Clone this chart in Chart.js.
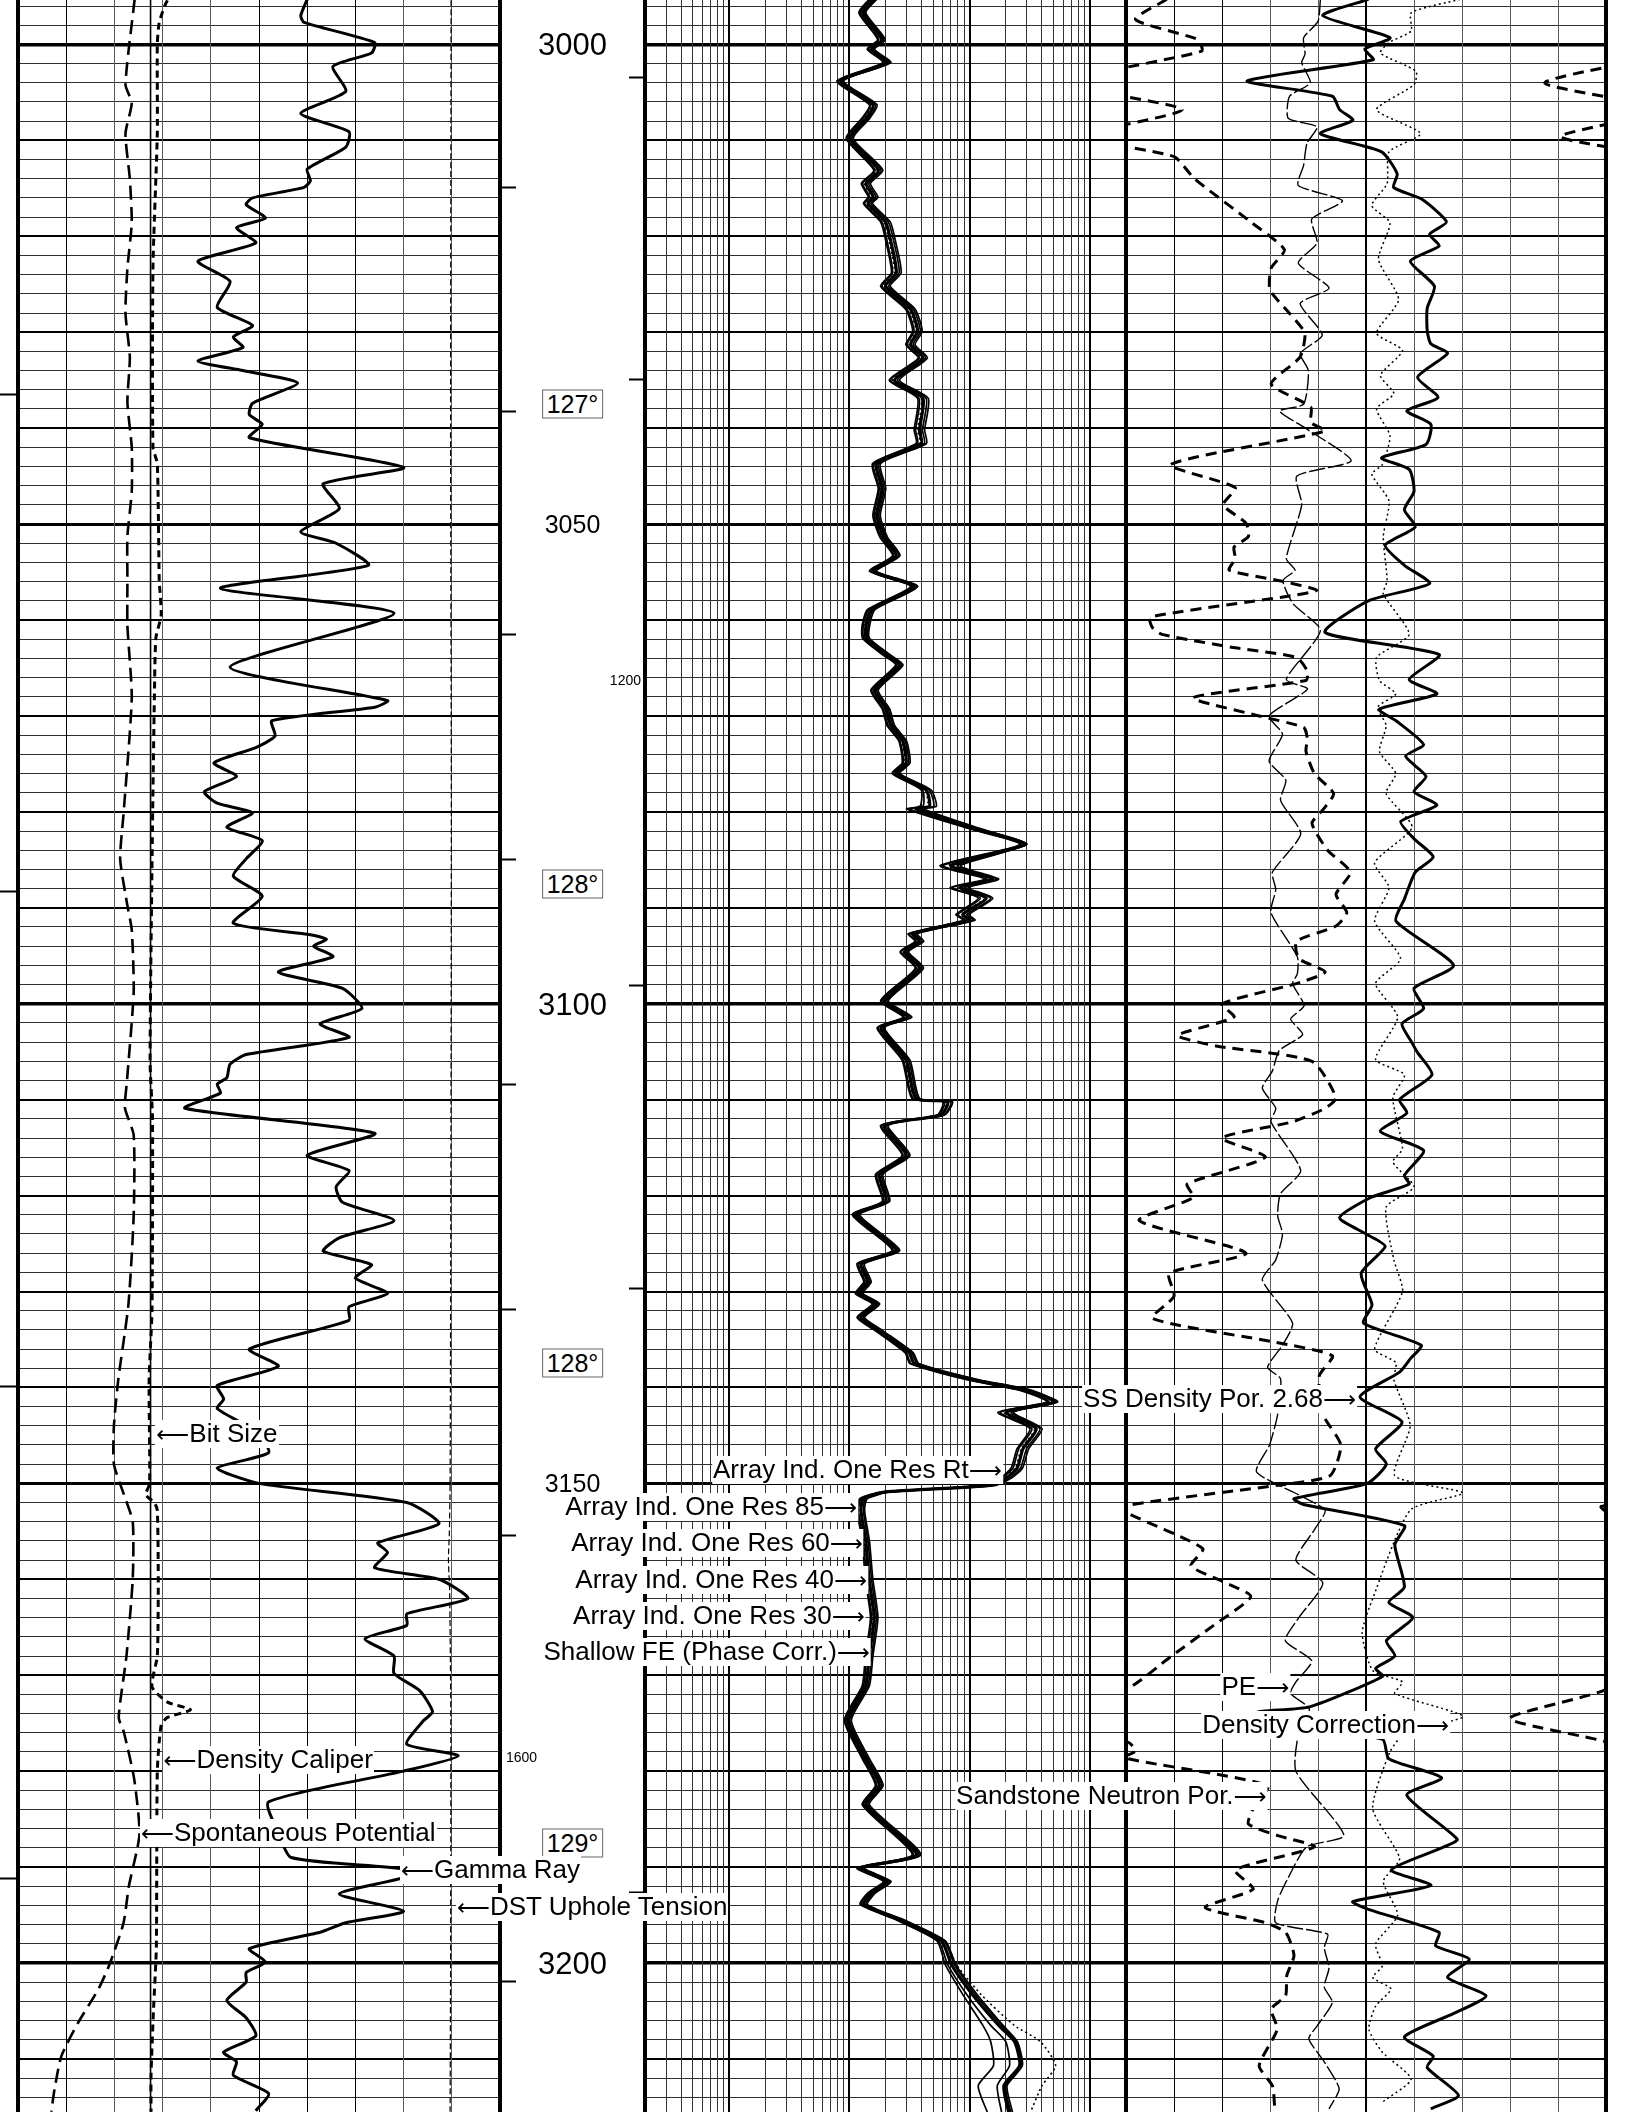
<!DOCTYPE html>
<html>
<head>
<meta charset="utf-8">
<script src="https://cdn.jsdelivr.net/npm/chart.js@4.4.1/dist/chart.umd.min.js"></script>
<style>
  html, body { margin: 0; padding: 0; background: #fff; }
  #log { position: relative; width: 1632px; height: 2112px; overflow: hidden;
         font-family: "Liberation Sans", Arial, "DejaVu Sans", sans-serif; color: #000; }
  #log canvas { position: absolute; top: 0; }
  .note { position: absolute; white-space: nowrap; background: #fff; font-size: 26px; line-height: 27px; padding: 0 1px; }
  .arr { font-family: "DejaVu Sans", sans-serif; font-size: 23px; }
</style>
</head>
<body>
<div id="log">
  <canvas id="t1" width="660" height="2112" style="left:0px"></canvas>
  <canvas id="t2" width="510" height="2112" style="left:630px"></canvas>
  <canvas id="t3" width="520" height="2112" style="left:1112px"></canvas>
</div>
<script>
// depth window of the print
const TOP_DEPTH = 2995.37, BOTTOM_DEPTH = 3215.53;

// ---- track 1 ----
const grDepth = [2995.3, 2997.0, 2997.7, 2999.8, 3000.9, 3002.3, 3004.9, 3007.2, 3009.1, 3010.7,
  3013.0, 3014.2, 3014.9, 3016.0, 3016.7, 3018.1, 3019.1, 3020.7, 3022.6, 3024.7,
  3027.4, 3029.3, 3030.5, 3031.6, 3033.0, 3034.0, 3035.3, 3037.4, 3038.6, 3039.6,
  3041.0, 3044.1, 3045.8, 3048.4, 3050.8, 3052.0, 3054.3, 3056.7, 3059.3, 3064.9,
  3068.4, 3069.1, 3070.5, 3072.1, 3073.3, 3074.9, 3076.3, 3077.9, 3079.1, 3080.1,
  3081.6, 3083.0, 3084.9, 3086.7, 3088.8, 3091.6, 3092.8, 3093.3, 3094.0, 3095.1,
  3096.7, 3098.4, 3100.5, 3102.1, 3103.5, 3105.3, 3106.3, 3107.7, 3108.4, 3109.3,
  3110.9, 3113.5, 3115.8, 3117.4, 3119.1, 3120.7, 3122.6, 3124.4, 3125.8, 3127.2,
  3128.6, 3130.2, 3131.6, 3133.0, 3136.0, 3137.8, 3139.8, 3141.2, 3142.2, 3144.6,
  3146.8, 3148.4, 3150.0, 3152.0, 3154.2, 3156.2, 3157.2, 3158.8, 3160.0, 3162.0,
  3163.6, 3164.8, 3166.2, 3168.0, 3169.8, 3171.6, 3173.8, 3174.8, 3177.2, 3178.4,
  3180.0, 3183.2, 3186.4, 3189.0, 3190.2, 3191.0, 3192.8, 3194.6, 3195.8, 3196.8,
  3198.5, 3199.9, 3201.0, 3202.0, 3203.9, 3205.7, 3207.6, 3209.3, 3210.3, 3211.7,
  3213.6, 3215.4];
const grApi = [90, 88, 89, 111, 110, 98, 102, 88, 103, 102,
  90, 91, 89, 73, 71, 77, 68, 74, 56, 66,
  62, 73, 67, 70, 56, 70, 87, 73, 72, 76,
  72, 120, 95, 100, 88, 99, 109, 63, 117, 66,
  115, 111, 79, 80, 74, 61, 68, 58, 62, 73,
  65, 76, 71, 67, 76, 67, 91, 96, 92, 98,
  81, 101, 107, 94, 103, 71, 66, 65, 62, 63,
  52, 111, 90, 103, 99, 101, 117, 100, 95, 110,
  105, 115, 103, 103, 72, 81, 62, 64, 62, 74,
  78, 62, 75, 121, 131, 112, 115, 111, 131, 140,
  121, 121, 108, 117, 117, 125, 129, 126, 121, 137,
  120, 78, 81, 85, 120, 121, 100, 120, 102, 94,
  72, 77, 71, 71, 65, 71, 74, 64, 68, 67,
  78, 74];

const spDepth = [2995.3, 3004.2, 3006.1, 3009.3, 3014.0, 3018.6, 3023.3, 3028.0, 3032.6, 3037.3,
  3042.0, 3046.6, 3051.3, 3055.9, 3060.6, 3068.1, 3080.2, 3084.9, 3089.5, 3092.3,
  3098.8, 3108.1, 3110.9, 3113.7, 3122.1, 3131.4, 3139.2, 3144.0, 3148.0, 3151.2,
  3154.0, 3160.0, 3168.0, 3174.4, 3176.0, 3180.8, 3186.6, 3192.0, 3195.8, 3200.0,
  3202.7, 3206.2, 3209.7, 3213.1, 3215.5];
const spMv = [-55.8, -57.7, -56.4, -57.7, -56.8, -56.4, -57.3, -57.7, -56.8, -57.3,
  -56.4, -56.4, -57.3, -57.3, -57.3, -56.4, -58.1, -58.8, -57.4, -56.4,
  -56.0, -57.4, -57.8, -56.0, -56.0, -57.1, -59.2, -60.1, -60.1, -58.0,
  -56.2, -56.2, -57.5, -59.1, -58.0, -55.9, -54.8, -57.0, -58.1, -60.9,
  -63.3, -67.5, -71.0, -72.4, -73.1];

const calDepth = [2995.4, 2995.8, 2997.7, 3000.0, 3009.3, 3023.3, 3042.0, 3043.7, 3055.8, 3059.5,
  3061.9, 3067.9, 3081.6, 3106.0, 3112.0, 3131.9, 3139.2, 3150.0, 3151.2, 3152.0,
  3152.8, 3160.0, 3168.0, 3171.2, 3172.8, 3173.6, 3174.4, 3175.2, 3180.0, 3198.4,
  3205.0, 3211.7, 3215.5];
const calIn = [9.10, 9.06, 8.93, 8.89, 8.89, 8.80, 8.80, 8.89, 8.93, 8.97,
  8.86, 8.83, 8.79, 8.74, 8.79, 8.78, 8.72, 8.73, 8.65, 8.83,
  8.89, 8.91, 8.89, 8.78, 9.10, 9.58, 9.10, 8.97, 8.89, 8.87,
  8.81, 8.76, 8.76];

const bitSizeIn = 8.75;

const tenDepth = [2995.4, 3040.0, 3080.0, 3120.0, 3150.0, 3155.0, 3158.0, 3161.0, 3175.0, 3200.0, 3215.5];
const tenLbs = [1797, 1795, 1798, 1796, 1793, 1790, 1786, 1791, 1796, 1795, 1793];

// ---- track 2 (ohm.m) ----
const resDepth = [2995.3, 2996.7, 2999.5, 3000.5, 3001.9, 3003.8, 3006.3, 3007.7, 3009.8, 3013.1,
  3014.5, 3015.9, 3016.6, 3018.5, 3020.6, 3023.8, 3025.2, 3027.6, 3029.9, 3031.3,
  3032.7, 3035.0, 3036.9, 3040.2, 3041.6, 3043.7, 3046.3, 3049.1, 3051.4, 3053.3,
  3054.9, 3056.5, 3058.9, 3060.5, 3061.9, 3063.6, 3064.7, 3067.3, 3069.3, 3071.0,
  3072.6, 3074.9, 3076.0, 3077.7, 3079.4, 3079.7, 3081.7, 3083.4, 3085.6, 3087.0,
  3087.9, 3089.0, 3090.7, 3091.3, 3092.7, 3093.5, 3094.6, 3096.3, 3099.7, 3101.4,
  3102.5, 3105.9, 3109.9, 3110.2, 3111.6, 3112.7, 3115.8, 3117.8, 3120.6, 3122.0,
  3125.7, 3127.1, 3129.0, 3130.2, 3131.3, 3132.7, 3134.1, 3136.4, 3137.5, 3139.2,
  3140.3, 3141.5, 3142.6, 3144.3, 3146.4, 3148.4, 3149.4, 3150.2, 3150.9, 3151.6,
  3152.8, 3156.0, 3160.0, 3164.0, 3168.0, 3171.1, 3174.7, 3178.7, 3181.5, 3183.5,
  3188.7, 3190.1, 3191.5, 3192.7, 3193.9, 3195.5, 3197.7, 3200.2, 3203.3, 3206.5,
  3208.2, 3210.7, 3212.8, 3215.6];
const resRt = [15.8, 12.9, 18.7, 15.3, 20.7, 8.5, 15.8, 13.8, 10.1, 17.5,
  13.8, 15.8, 14.3, 20.0, 22.2, 24.6, 20.0, 32.3, 37.0, 32.3,
  41.0, 23.8, 41.0, 38.3, 39.7, 16.9, 18.7, 16.9, 19.4, 24.6,
  15.8, 34.6, 15.3, 13.8, 13.8, 20.2, 26.1, 16.2, 20.2, 22.2,
  27.8, 29.7, 24.5, 43.5, 46.4, 35.9, 107, 287, 70, 156,
  83, 138, 88, 100, 33.7, 38.3, 28.7, 38.3, 19.6, 30.6,
  18.3, 29.7, 35.9, 66, 58, 19.6, 29.7, 17.8, 20.2, 11.4,
  24.5, 12.5, 14.2, 12.1, 16.7, 12.5, 17.8, 31.6, 34.8, 107,
  297, 510, 202, 359, 278, 249, 204, 150, 20, 13.1,
  12.5, 13.7, 14.6, 16.1, 14.6, 13.7, 9.7, 13.7, 17.8, 13.7,
  36.3, 12.5, 20.7, 15.3, 13.2, 26.4, 58.5, 71, 106, 175,
  237, 261, 193, 212];
const res85 = [15.0, 12.3, 17.6, 14.5, 19.5, 8.1, 15.0, 13.0, 9.6, 16.4,
  12.9, 14.8, 13.4, 18.7, 20.7, 22.9, 18.7, 30.2, 34.6, 30.3,
  38.4, 22.1, 38.0, 35.6, 36.9, 16.0, 17.8, 16.1, 18.5, 23.4,
  15.1, 32.9, 14.6, 13.1, 13.2, 19.2, 24.8, 15.4, 19.2, 21.1,
  26.3, 28.1, 23.2, 40.6, 41.0, 31.5, 99, 268, 60, 140,
  72, 123, 80, 92, 31.6, 36.0, 27.0, 36.1, 18.6, 28.7,
  17.4, 28.1, 34.0, 62, 55, 18.6, 28.1, 16.9, 19.2, 10.9,
  23.2, 11.9, 13.5, 11.5, 15.9, 11.9, 16.9, 29.8, 32.6, 98,
  272, 455, 180, 330, 256, 230, 188, 138, 18.8, 12.5,
  11.9, 13.1, 13.9, 15.3, 13.9, 13.1, 9.3, 13.1, 16.9, 13.1,
  34.2, 11.9, 19.6, 14.6, 12.6, 25.0, 55.0, 66, 95, 150,
  200, 215, 170, 185];
const res60 = [16.4, 13.4, 19.4, 15.9, 21.5, 8.8, 16.5, 14.4, 10.5, 18.4,
  14.5, 16.7, 15.1, 21.1, 23.5, 26.0, 21.2, 34.1, 39.0, 34.0,
  43.1, 25.2, 43.6, 40.6, 42.0, 17.7, 19.5, 17.6, 20.2, 25.7,
  16.5, 36.1, 16.0, 14.4, 14.4, 21.1, 27.3, 16.9, 21.1, 23.2,
  29.1, 31.1, 25.7, 46.0, 50.5, 39.5, 114, 300, 79, 168,
  92, 150, 95, 107, 35.5, 40.3, 30.2, 40.2, 20.5, 32.2,
  19.1, 31.1, 37.6, 70, 61, 20.5, 31.1, 18.6, 21.1, 11.9,
  25.6, 13.0, 14.8, 12.6, 17.4, 13.0, 18.6, 33.1, 36.7, 115,
  318, 540, 222, 385, 298, 266, 218, 160, 21.2, 13.7,
  13.1, 14.3, 15.3, 16.8, 15.3, 14.3, 10.1, 14.3, 18.6, 14.3,
  38.1, 13.1, 21.7, 16.0, 13.8, 27.7, 61.5, 75, 112, 185,
  245, 268, 200, 220];
const res40 = [14.6, 12.0, 17.2, 14.1, 19.0, 7.9, 14.7, 12.7, 9.4, 16.0,
  12.6, 14.4, 13.1, 18.2, 20.2, 22.4, 18.2, 29.4, 33.7, 29.5,
  37.4, 21.5, 37.0, 34.6, 35.9, 15.6, 17.4, 15.7, 18.0, 22.9,
  14.7, 32.2, 14.2, 12.8, 12.9, 18.8, 24.3, 15.1, 18.8, 20.6,
  25.8, 27.5, 22.7, 39.5, 38.8, 30.0, 96, 262, 57, 134,
  69, 118, 77, 89, 30.9, 35.2, 26.4, 35.3, 18.2, 28.0,
  17.0, 27.5, 33.3, 60, 54, 18.2, 27.5, 16.5, 18.8, 10.6,
  22.7, 11.6, 13.2, 11.2, 15.5, 11.6, 16.5, 29.2, 31.9, 95,
  263, 440, 172, 318, 248, 222, 182, 133, 18.3, 12.2,
  11.6, 12.8, 13.6, 15.0, 13.6, 12.8, 9.1, 12.8, 16.5, 12.8,
  33.4, 11.6, 19.2, 14.2, 12.3, 24.4, 53.5, 63, 88, 129,
  150, 158, 118, 141];
const res30 = [16.9, 13.7, 19.9, 16.2, 22.1, 9.0, 17.0, 14.8, 10.8, 19.0,
  15.0, 17.3, 15.6, 21.9, 24.3, 27.0, 21.9, 35.3, 40.4, 35.2,
  44.6, 26.2, 45.4, 42.3, 43.8, 18.2, 20.1, 18.1, 20.8, 26.4,
  16.9, 37.1, 16.4, 14.8, 14.7, 21.7, 28.0, 17.4, 21.7, 23.8,
  29.9, 32.0, 26.4, 47.8, 53.0, 41.8, 119, 296, 84, 175,
  97, 156, 99, 111, 36.7, 41.6, 31.1, 41.4, 21.1, 33.2,
  19.6, 32.0, 38.6, 72, 62, 21.1, 32.0, 19.1, 21.7, 12.2,
  26.3, 13.4, 15.2, 13.0, 17.9, 13.4, 19.1, 34.1, 37.8, 120,
  330, 520, 232, 400, 310, 276, 226, 166, 21.9, 14.1,
  13.4, 14.7, 15.7, 17.3, 15.7, 14.7, 10.4, 14.7, 19.1, 14.7,
  39.3, 13.4, 22.3, 16.5, 14.2, 28.5, 63.0, 77, 116, 190,
  250, 275, 205, 228];
const resSfe = [15.5, 12.6, 18.3, 14.9, 20.2, 8.3, 15.4, 13.4, 9.9, 17.0,
  13.4, 15.3, 13.9, 19.4, 21.5, 23.8, 19.4, 31.3, 35.9, 31.4,
  39.8, 23.0, 39.6, 37.0, 38.4, 16.5, 18.3, 16.5, 19.0, 24.1,
  15.5, 33.9, 15.0, 13.5, 13.5, 19.8, 25.6, 15.9, 19.8, 21.8,
  27.2, 29.0, 24.0, 42.4, 44.9, 34.6, 104, 280, 67, 150,
  80, 133, 85, 97, 33.0, 37.5, 28.1, 37.5, 19.2, 29.8,
  17.9, 29.0, 35.1, 64, 57, 19.2, 29.0, 17.4, 19.8, 11.2,
  24.0, 12.2, 13.9, 11.8, 16.3, 12.2, 17.4, 30.9, 33.9, 103,
  287, 490, 194, 347, 269, 241, 197, 145, 19.5, 12.8,
  12.2, 13.4, 14.3, 15.7, 14.3, 13.4, 9.5, 13.4, 17.4, 13.4,
  35.4, 12.2, 20.2, 15.0, 13.0, 27.5, 62.0, 78, 125, 235,
  390, 520, 400, 320];

// ---- track 3 ----
const denDepth = [2995.3, 2997.0, 2999.3, 3000.5, 3001.6, 3003.8, 3005.4, 3006.8, 3007.9, 3009.3,
  3011.2, 3013.5, 3014.9, 3016.1, 3018.5, 3019.8, 3021.0, 3022.6, 3025.2, 3027.5,
  3029.8, 3031.2, 3032.2, 3034.7, 3036.8, 3038.2, 3039.6, 3041.7, 3043.1, 3044.3,
  3046.6, 3048.5, 3050.3, 3052.2, 3054.3, 3056.2, 3058.0, 3061.3, 3063.6, 3066.2,
  3067.7, 3069.3, 3070.5, 3073.0, 3074.2, 3076.3, 3077.9, 3079.3, 3081.0, 3082.8,
  3084.7, 3086.3, 3089.1, 3091.4, 3096.0, 3098.4, 3100.5, 3102.1, 3104.0, 3105.1,
  3107.4, 3110.0, 3111.4, 3113.3, 3115.3, 3117.9, 3118.8, 3120.2, 3122.3, 3124.0,
  3125.3, 3128.1, 3131.4, 3133.3, 3135.6, 3137.0, 3138.4, 3141.0, 3143.6, 3146.4,
  3148.0, 3150.0, 3151.6, 3152.2, 3154.4, 3156.4, 3160.8, 3162.4, 3164.0, 3166.4,
  3168.0, 3169.3, 3170.1, 3173.3, 3173.9, 3175.9, 3176.7, 3178.7, 3180.7, 3182.5,
  3187.1, 3187.9, 3190.3, 3191.9, 3193.6, 3194.4, 3196.8, 3198.2, 3199.6, 3201.5,
  3203.4, 3205.1, 3207.7, 3209.7, 3210.9, 3213.8, 3215.2];
const denPor = [9.8, 13.6, 8.0, 10.1, 9.4, 19.9, 12.8, 12.2, 11.1, 13.8,
  8.7, 7.4, 7.7, 5.4, 3.3, 4.7, 3.9, 6.3, 4.3, 4.9,
  4.9, 4.6, 3.2, 5.7, 4.0, 6.6, 4.6, 5.0, 8.7, 6.4,
  6.0, 6.8, 5.9, 8.4, 6.8, 4.7, 9.8, 13.4, 3.9, 6.4,
  4.1, 8.9, 7.5, 5.2, 6.7, 5.0, 6.0, 4.1, 7.1, 6.0,
  4.4, 5.9, 6.8, 7.5, 2.7, 6.0, 5.2, 7.0, 6.2, 5.7,
  4.5, 7.2, 6.6, 8.8, 5.2, 6.8, 6.4, 9.6, 12.2, 10.0,
  8.4, 10.4, 9.5, 10.2, 5.4, 6.3, 7.2, 10.5, 7.0, 9.2,
  8.3, 9.9, 16.0, 15.2, 6.8, 7.6, 6.8, 8.1, 6.1, 8.3,
  7.6, 9.2, 8.6, 14.7, 19.1, 13.0, 8.6, 8.1, 3.7, 6.6,
  2.4, 3.5, 7.9, 4.6, 11.1, 9.8, 3.9, 4.2, 1.4, 3.2,
  0.0, 2.4, 6.8, 4.4, 4.9, 2.3, 4.6];

const neuDepth = [2995.3, 2997.4, 2999.5, 3000.7, 3004.0, 3006.8, 3009.6, 3011.7, 3014.0, 3018.6,
  3021.4, 3023.3, 3025.6, 3028.0, 3030.1, 3032.6, 3035.4, 3037.8, 3039.4, 3040.3,
  3043.8, 3046.2, 3048.0, 3049.9, 3051.3, 3052.4, 3053.6, 3054.8, 3055.9, 3056.9,
  3057.6, 3059.7, 3060.8, 3061.5, 3062.9, 3063.9, 3065.3, 3066.3, 3068.1, 3070.0,
  3071.2, 3072.3, 3073.7, 3076.0, 3078.1, 3079.8, 3081.2, 3084.0, 3086.3, 3088.6,
  3090.5, 3091.9, 3093.5, 3095.3, 3096.7, 3097.9, 3100.0, 3101.4, 3103.3, 3104.4,
  3106.0, 3109.8, 3110.9, 3112.3, 3114.0, 3116.0, 3118.8, 3120.2, 3122.6, 3126.0,
  3128.1, 3130.5, 3132.8, 3135.3, 3136.7, 3138.8, 3142.8, 3146.0, 3149.2, 3150.2,
  3152.4, 3153.2, 3156.8, 3158.6, 3160.2, 3161.8, 3164.8, 3168.0, 3171.5, 3174.5,
  3177.0, 3177.9, 3178.6, 3181.5, 3183.9, 3185.5, 3186.7, 3187.9, 3190.3, 3192.3,
  3194.2, 3195.8, 3196.8, 3199.2, 3201.3, 3203.4, 3204.8, 3206.9, 3210.7, 3212.8,
  3215.2];
const neuPor = [26.6, 29.2, 24.0, 23.7, 35.1, 25.3, 33.8, 26.0, 24.3, 19.5,
  16.8, 17.9, 18.0, 16.4, 15.1, 15.5, 17.9, 14.6, 14.6, 13.4,
  26.3, 20.9, 21.9, 20.0, 19.8, 21.0, 20.9, 21.4, 17.2, 14.1,
  16.9, 28.0, 27.8, 27.0, 20.9, 15.8, 14.9, 15.0, 24.4, 18.9,
  15.2, 14.9, 15.0, 14.3, 12.7, 13.6, 14.5, 13.2, 11.3, 12.5,
  11.6, 12.5, 15.8, 15.6, 13.4, 15.8, 22.0, 21.0, 25.7, 22.5,
  14.5, 12.5, 13.4, 16.1, 22.0, 18.4, 24.9, 24.4, 28.9, 20.0,
  26.4, 26.0, 27.8, 17.5, 12.8, 13.9, 13.6, 12.1, 13.0, 17.4,
  30.4, 29.7, 23.6, 24.6, 22.0, 19.6, 22.7, 26.2, 30.0, 38.0,
  29.8, 29.2, 30.2, 18.2, 19.4, 19.8, 17.4, 14.3, 20.9, 19.4,
  23.4, 18.4, 16.7, 16.0, 16.6, 16.7, 17.9, 17.4, 18.9, 17.8,
  17.6];

const peDepth = [2995.3, 2997.6, 2999.3, 3001.0, 3001.9, 3004.0, 3005.4, 3007.7, 3008.6, 3010.3,
  3012.6, 3014.7, 3016.3, 3018.2, 3020.7, 3022.8, 3025.4, 3027.0, 3030.3, 3032.2,
  3034.0, 3037.5, 3038.2, 3040.1, 3043.4, 3045.0, 3048.0, 3053.6, 3054.8, 3055.9,
  3058.3, 3061.1, 3066.2, 3067.2, 3070.0, 3071.9, 3074.7, 3076.7, 3078.8, 3082.3,
  3086.3, 3088.1, 3090.5, 3095.1, 3096.9, 3097.9, 3100.2, 3101.6, 3103.2, 3104.9,
  3107.0, 3108.8, 3110.9, 3112.3, 3117.4, 3119.8, 3122.1, 3124.0, 3126.7, 3128.8,
  3133.3, 3135.6, 3137.9, 3139.1, 3142.8, 3146.0, 3148.8, 3151.2, 3152.8, 3154.8,
  3158.0, 3160.4, 3164.0, 3166.4, 3168.5, 3170.7, 3171.9, 3173.5, 3175.9, 3180.0,
  3186.7, 3187.9, 3191.1, 3193.5, 3195.8, 3197.0, 3198.4, 3200.5, 3202.5, 3204.1,
  3206.5, 3207.9, 3210.3, 3213.1, 3215.2];
const peVal = [4.05, 4.00, 3.70, 3.73, 3.66, 3.84, 3.41, 3.38, 3.98, 3.77,
  3.70, 3.59, 4.51, 3.87, 3.98, 3.59, 4.23, 3.63, 4.09, 3.63,
  3.80, 3.70, 3.20, 3.77, 4.69, 3.56, 3.66, 3.34, 3.52, 3.27,
  3.48, 4.05, 3.34, 3.78, 2.98, 3.26, 2.98, 3.33, 3.22, 3.64,
  3.05, 3.12, 3.02, 3.57, 3.57, 3.47, 3.71, 3.43, 3.68, 3.19,
  3.05, 2.84, 3.12, 3.02, 3.64, 3.22, 3.16, 3.26, 3.12, 2.84,
  3.47, 3.26, 2.95, 3.22, 3.16, 2.99, 2.72, 3.60, 4.15, 3.93,
  3.54, 4.10, 3.60, 3.32, 3.87, 3.54, 3.43, 3.82, 3.60, 3.54,
  4.54, 3.76, 3.38, 3.16, 3.12, 4.20, 4.13, 4.23, 4.13, 4.30,
  3.99, 3.81, 4.13, 4.44, 4.23];

const dcDepth = [2995.3, 2996.7, 2998.6, 2999.8, 3000.9, 3002.8, 3004.2, 3006.8, 3009.3, 3011.2,
  3014.5, 3016.8, 3018.6, 3022.4, 3026.6, 3030.1, 3031.9, 3034.5, 3036.4, 3038.0,
  3040.8, 3043.8, 3044.8, 3047.6, 3051.3, 3055.9, 3057.3, 3061.5, 3063.9, 3066.3,
  3067.7, 3069.1, 3071.0, 3073.7, 3076.0, 3078.1, 3081.6, 3085.3, 3087.9, 3091.4,
  3095.3, 3097.9, 3101.4, 3105.8, 3107.4, 3109.8, 3115.1, 3116.5, 3119.1, 3121.2,
  3126.7, 3130.0, 3136.0, 3137.4, 3139.2, 3144.0, 3149.2, 3151.0, 3152.8, 3162.0,
  3165.6, 3169.5, 3170.7, 3171.9, 3174.3, 3176.0, 3178.0, 3183.9, 3189.1, 3191.5,
  3195.0, 3198.0, 3200.3, 3201.5, 3202.7, 3204.5, 3206.9, 3209.3, 3212.1, 3214.5];
const dcVal = [0.098, 0.047, 0.047, 0.024, 0.015, 0.052, 0.050, 0.011, 0.057, 0.024,
  0.022, 0.006, 0.025, 0.013, 0.034, 0.011, 0.038, 0.015, 0.029, 0.011,
  0.025, 0.017, 0.006, 0.024, 0.018, 0.022, 0.018, 0.045, 0.011, 0.014,
  0.031, 0.012, 0.021, 0.014, 0.031, 0.021, 0.048, 0.009, 0.024, 0.009,
  0.036, 0.010, 0.033, 0.010, 0.040, 0.028, 0.038, 0.028, 0.050, 0.021,
  0.029, 0.038, 0.009, 0.031, 0.029, 0.046, 0.030, 0.101, 0.046, 0.007,
  -0.004, 0.007, 0.038, 0.030, 0.101, 0.041, 0.025, 0.007, 0.035, 0.018,
  0.033, 0.010, 0.017, 0.007, 0.026, 0.010, 0.003, 0.017, 0.047, 0.017];

// ---- depth track ----
const depthMarks = [3000, 3050, 3100, 3150, 3200];
const tempDepths = [3037.5, 3087.5, 3137.5, 3187.5];
const tempLabels = ['127\u00b0', '128\u00b0', '128\u00b0', '129\u00b0'];
const ticksTrack1Side = [3014.9, 3038.2, 3061.5, 3084.9, 3108.4, 3131.8, 3155.4, 3201.9];
const ticksTrack2Side = [3003.4, 3034.9, 3098.0, 3129.6, 3161.1, 3192.6];
const ticksOuterEdge = [3036.4, 3088.2, 3139.9, 3191.1];
const tensionMarks = [['1200', 3066.3, 'right'], ['1600', 3178.5, 'left']];

// curve notes: text, canvas, axis, value where the arrow points, depth, arrow side
const curveNotes = [
  ['Bit Size', 't1', 'xCAL', 8.85, 3144.9, 'L'],
  ['Density Caliper', 't1', 'xCAL', 9.0, 3178.8, 'L'],
  ['Spontaneous Potential', 't1', 'xSP', -54.7, 3186.4, 'L'],
  ['Gamma Ray', 't1', 'xGR', 118.9, 3190.3, 'L'],
  ['DST Uphole Tension', 't1', 'xTEN', 1817, 3194.2, 'L'],
  ['Array Ind. One Res Rt', 't2', 'x', 189, 3148.6, 'R'],
  ['Array Ind. One Res 85', 't2', 'x', 11.8, 3152.5, 'R'],
  ['Array Ind. One Res 60', 't2', 'x', 13.2, 3156.2, 'R'],
  ['Array Ind. One Res 40', 't2', 'x', 14.3, 3160.1, 'R'],
  ['Array Ind. One Res 30', 't2', 'x', 13.7, 3163.8, 'R'],
  ['Shallow FE (Phase Corr.)', 't2', 'x', 15.1, 3167.6, 'R'],
  ['SS Density Por. 2.68', 't3', 'xPOR', 10.75, 3141.2, 'R'],
  ['PE', 't3', 'xPE', 3.42, 3171.2, 'R'],
  ['Density Correction', 't3', 'xDC', 0.0875, 3175.2, 'R'],
  ['Sandstone Neutron Por.', 't3', 'xPOR', 18.2, 3182.6, 'R']
];

// grid positions
const evenDepths = [];
for (let d = 2996; d <= 3214; d += 2) evenDepths.push(d);
const divisions = [0, 1, 2, 3, 4, 5, 6, 7, 8, 9, 10];
const resGrid = [];
for (let e = -1; e <= 3; e++) {
  for (let m = 1; m <= 9; m++) {
    const v = Number((m * Math.pow(10, e)).toPrecision(3));
    if (v >= 0.2 && v <= 2000) resGrid.push(v);
  }
}

const pts = (depths, vals) => depths.map((d, i) => ({ x: vals[i], y: d }));

function curve(depths, vals, axis, width, dash, extra) {
  return Object.assign({
    data: pts(depths, vals), xAxisID: axis, yAxisID: 'y', showLine: true,
    pointRadius: 0, borderColor: '#000', borderWidth: width, borderDash: dash || [],
    tension: 0.2, fill: false
  }, extra || {});
}

function depthAxis() {
  return {
    type: 'linear', axis: 'y', position: 'left', min: TOP_DEPTH, max: BOTTOM_DEPTH, reverse: true,
    ticks: { display: false },
    afterBuildTicks: s => { s.ticks = evenDepths.map(v => ({ value: v })); },
    grid: {
      drawTicks: false,
      color: c => c.tick.value % 10 === 0 ? '#000' : '#2e2e2e',
      lineWidth: c => c.tick.value % 100 === 0 ? 3.5 : c.tick.value % 50 === 0 ? 3 : c.tick.value % 10 === 0 ? 2 : 1
    },
    border: { display: false }
  };
}

function divisionAxis(dark, heavy) {
  return {
    type: 'linear', axis: 'x', position: 'top', min: 0, max: 10,
    ticks: { display: false },
    afterBuildTicks: s => { s.ticks = divisions.map(v => ({ value: v })); },
    grid: {
      drawTicks: false,
      color: c => (c.tick.value === 0 || c.tick.value === 10 || dark.includes(c.tick.value)) ? '#000' : '#5a5a5a',
      lineWidth: c => (c.tick.value === 0 || c.tick.value === 10) ? 4 : heavy.includes(c.tick.value) ? 2 : 1
    },
    border: { display: false }
  };
}

const hidden = (min, max, reverse) => ({ type: 'linear', axis: 'x', min, max, reverse: !!reverse, display: false });

function options(padding, scales) {
  return {
    responsive: false, maintainAspectRatio: false, animation: false, events: [], devicePixelRatio: 1,
    layout: { padding },
    scales,
    plugins: { legend: { display: false }, tooltip: { enabled: false } }
  };
}

// short time ticks in the depth column
const depthColumnTicks = {
  id: 'depthColumnTicks',
  afterDraw(chart) {
    const y = chart.scales.y, ctx = chart.ctx, area = chart.chartArea;
    ctx.save();
    ctx.strokeStyle = '#000';
    ctx.lineWidth = 2;
    const seg = (x0, x1, d) => {
      const py = Math.round(y.getPixelForValue(d)) + 0.5;
      ctx.beginPath(); ctx.moveTo(x0, py); ctx.lineTo(x1, py); ctx.stroke();
    };
    ticksTrack1Side.forEach(d => seg(area.right, area.right + 16, d));
    ticksTrack2Side.forEach(d => seg(629, 645, d));
    ticksOuterEdge.forEach(d => seg(0, area.left, d));
    ctx.restore();
  }
};

const charts = {};

charts.t1 = new Chart(document.getElementById('t1'), {
  type: 'scatter',
  data: {
    datasets: [
      curve([TOP_DEPTH, BOTTOM_DEPTH], [bitSizeIn, bitSizeIn], 'xCAL', 1.6, [], { tension: 0 }),
      curve(tenDepth, tenLbs, 'xTEN', 1.2, [6, 3]),
      curve(spDepth, spMv, 'xSP', 2.6, [14, 7]),
      curve(calDepth, calIn, 'xCAL', 3, [7, 5]),
      curve(grDepth, grApi, 'xGR', 3)
    ]
  },
  options: options({ left: 18, right: 160, top: 0, bottom: 0 }, {
    y: depthAxis(),
    x: divisionAxis([1, 5, 6, 7], []),
    xGR: hidden(0, 150),
    xSP: hidden(-80, 20),
    xCAL: hidden(6, 16),
    xTEN: hidden(0, 2000)
  }),
  plugins: [depthColumnTicks]
});

charts.t2 = new Chart(document.getElementById('t2'), {
  type: 'scatter',
  data: {
    datasets: [
      curve(resDepth, resSfe, 'x', 1.6, [2, 3]),
      curve(resDepth, res30, 'x', 1.7),
      curve(resDepth, res40, 'x', 1.7),
      curve(resDepth, res60, 'x', 1.7),
      curve(resDepth, res85, 'x', 1.7),
      curve(resDepth, resRt, 'x', 3.2)
    ]
  },
  options: options({ left: 15, right: 14, top: 0, bottom: 0 }, {
    y: depthAxis(),
    x: {
      type: 'logarithmic', axis: 'x', position: 'top', min: 0.2, max: 2000,
      ticks: { display: false },
      afterBuildTicks: s => { s.ticks = resGrid.map(v => ({ value: v })); },
      grid: {
        drawTicks: false,
        color: c => {
          const l = Math.log10(c.tick.value);
          return Math.abs(l - Math.round(l)) < 1e-6 || c.tick.value === 0.2 || c.tick.value === 2000 ? '#000' : '#333';
        },
        lineWidth: c => {
          const l = Math.log10(c.tick.value);
          if (c.tick.value === 0.2 || c.tick.value === 2000) return 4;
          return Math.abs(l - Math.round(l)) < 1e-6 ? 2 : 1;
        }
      },
      border: { display: false }
    }
  })
});

charts.t3 = new Chart(document.getElementById('t3'), {
  type: 'scatter',
  data: {
    datasets: [
      curve(dcDepth, dcVal, 'xDC', 1.5, [2, 3]),
      curve(peDepth, peVal, 'xPE', 1.4, [16, 3]),
      curve(neuDepth, neuPor, 'xPORB', 3, [11, 7], { clip: 0 }),
      curve(neuDepth, neuPor, 'xPOR', 3, [11, 7], { clip: 0 }),
      curve(denDepth, denPor, 'xPOR', 3)
    ]
  },
  options: options({ left: 14, right: 26, top: 0, bottom: 0 }, {
    y: depthAxis(),
    x: divisionAxis([1, 2, 5], [5]),
    xPOR: hidden(-10, 30, true),
    xPORB: hidden(30, 70, true),
    xPE: hidden(0, 10),
    xDC: hidden(-0.25, 0.25)
  })
});

// ---- text layer ----
const host = document.getElementById('log');
function put(text, css) {
  const el = document.createElement('div');
  el.textContent = text;
  el.style.cssText = 'position:absolute;white-space:nowrap;' + css;
  host.appendChild(el);
  return el;
}
const yPix = d => charts.t1.scales.y.getPixelForValue(d);
const colLeft = charts.t1.chartArea.right;
const colRight = charts.t2.canvas.offsetLeft + charts.t2.chartArea.left;
const colMid = (colLeft + colRight) / 2;

depthMarks.forEach(d => {
  const size = d % 100 === 0 ? 31 : 25;
  put(String(d), 'left:' + colMid + 'px;top:' + yPix(d) + 'px;font-size:' + size + 'px;line-height:1;transform:translate(-50%,-50%);');
});
tempDepths.forEach((d, i) => {
  put(tempLabels[i], 'left:' + colMid + 'px;top:' + yPix(d) + 'px;font-size:25px;line-height:27px;padding:0 4px;border:1px solid #666;background:#fff;transform:translate(-50%,-50%);');
});
tensionMarks.forEach(([t, d, side]) => {
  const css = side === 'right'
    ? 'left:' + (colRight - 4) + 'px;transform:translate(-100%,-50%);'
    : 'left:' + (colLeft + 6) + 'px;transform:translateY(-50%);';
  put(t, css + 'top:' + yPix(d) + 'px;font-size:14px;line-height:1;');
});

curveNotes.forEach(([text, key, axis, value, depth, side]) => {
  const ch = charts[key];
  const x = ch.canvas.offsetLeft + ch.scales[axis].getPixelForValue(value);
  const el = document.createElement('div');
  el.className = 'note';
  const arrow = document.createElement('span');
  arrow.className = 'arr';
  arrow.textContent = side === 'L' ? '\u27f5' : '\u27f6';
  const label = document.createTextNode(text);
  if (side === 'L') { el.appendChild(arrow); el.appendChild(label); }
  else { el.appendChild(label); el.appendChild(arrow); }
  el.style.top = yPix(depth) + 'px';
  el.style.left = x + 'px';
  el.style.transform = side === 'L' ? 'translateY(-50%)' : 'translate(-100%,-50%)';
  host.appendChild(el);
});
</script>
</body>
</html>
